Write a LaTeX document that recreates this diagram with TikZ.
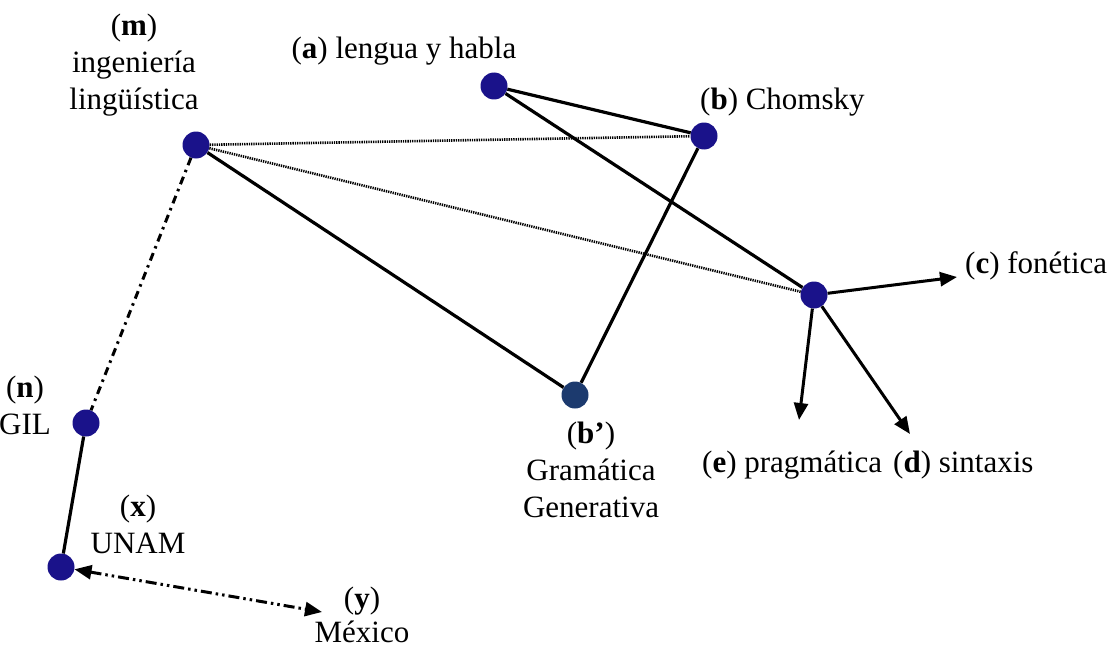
\documentclass[tikz,border=0pt]{standalone}
\usepackage{fontspec}
\setmainfont{Liberation Serif}
\usetikzlibrary{arrows.meta}
\definecolor{dotblue}{HTML}{1A128A}
\definecolor{dotblue2}{HTML}{1C3A6E}
\begin{document}
\begin{tikzpicture}[x=1pt,y=-1pt,
  dot/.style={circle,fill=dotblue,minimum size=27pt,inner sep=0pt},
  lbl/.style={font=\fontsize{31}{37}\selectfont,inner sep=0pt,align=center,anchor=base},
  lblw/.style={font=\fontsize{31}{37}\selectfont,inner sep=0pt,anchor=base west},
  solidl/.style={line width=3.2pt},
  dotl/.style={line width=2.6pt,dash pattern=on 1.3pt off 1pt},
  arr/.style={line width=3pt,-{Triangle[length=17pt,width=14pt]}},
  dashdot/.style={line width=3pt,dash pattern=on 8pt off 5pt on 2.5pt off 5pt},
  dashdotdot/.style={line width=3pt,dash pattern=on 11pt off 4pt on 2.5pt off 4pt on 2.5pt off 4pt}]
\useasboundingbox (0,0) rectangle (1115,650);
\node[dot] (m) at (196,145) {};
\node[dot] (a) at (494,86) {};
\node[dot] (b) at (704,136) {};
\node[dot] (p) at (814,295) {};
\node[dot,fill=dotblue2] (bp) at (575,395) {};
\node[dot] (n) at (86,423) {};
\node[dot] (x) at (61,567) {};
\coordinate (y) at (322,612);
\coordinate (c) at (957,277);
\coordinate (e) at (799,420);
\coordinate (d) at (910,434);
% edges
\draw[dotl] (m) -- (b);
\draw[dotl] (m) -- (p);
\draw[solidl] (a) -- (b);
\draw[solidl] (a) -- (p);
\draw[solidl] (m) -- (bp);
\draw[solidl] (b) -- (bp);
\draw[arr] (p) -- (c);
\draw[arr] (p) -- (e);
\draw[arr] (p) -- (d);
\draw[dashdot] (m) -- (n);
\draw[solidl] (n) -- (x);
\draw[dashdotdot,{Triangle[length=17pt,width=14pt]}-{Triangle[length=17pt,width=14pt]}] (x) -- (y);
% labels (base anchor = baseline of the last line)
\node[lbl] (lm) at (134,110) {(\textbf{m})\\ingeniería\\lingüística};
\node[lbl] (la) at (404,59) {(\textbf{a}) lengua y habla};
\node[lblw] (lb) at (700,110) {(\textbf{b}) Chomsky};
\node[lblw] (lc) at (965,273) {(\textbf{c}) fonética};
\node[lblw] (le) at (702,472) {(\textbf{e}) pragmática};
\node[lblw] (ld) at (893,472) {(\textbf{d}) sintaxis};
\node[lbl] (lbp) at (591,517) {(\textbf{b’})\\Gramática\\Generativa};
\node[lbl] (ln) at (25,434) {(\textbf{n})\\GIL};
\node[lbl] (lx) at (138,553) {(\textbf{x})\\UNAM};
\node[lbl,font=\fontsize{31}{34}\selectfont] (ly) at (362,642) {(\textbf{y})\\México};
\end{tikzpicture}
\end{document}
